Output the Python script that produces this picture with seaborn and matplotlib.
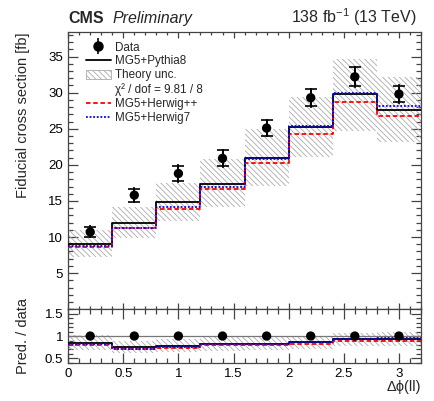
import numpy as np
import pandas as pd
import matplotlib
matplotlib.use("Agg")
import matplotlib.pyplot as plt
import seaborn as sns
from matplotlib.patches import Patch
from matplotlib.lines import Line2D
from matplotlib.legend_handler import HandlerTuple
from matplotlib.ticker import MultipleLocator, FuncFormatter

# ---------------- data ----------------
bin_edges = [0.0, 0.4, 0.8, 1.2, 1.6, 2.0, 2.4, 2.8, 3.2]
data_xs = [10.7, 15.8, 18.8, 20.9, 25.1, 29.3, 32.2, 29.8]
data_err_tot = [0.9, 1.1, 1.35, 1.35, 1.3, 1.4, 1.55, 1.4]
data_err_stat = [0.75, 0.9, 1.1, 1.1, 1.1, 1.15, 1.3, 1.15]
mg5_pythia8 = [9.1, 12.0, 14.8, 17.4, 20.9, 25.3, 29.8, 27.6]
mg5_herwigpp = [8.6, 11.2, 13.9, 16.6, 20.3, 24.3, 28.7, 26.8]
mg5_herwig7 = [8.8, 11.3, 14.2, 17.0, 20.8, 25.4, 29.9, 28.2]
theory_lo = [7.25, 9.8, 12.2, 14.1, 17.1, 21.1, 24.7, 23.1]
theory_hi = [11.0, 14.2, 17.5, 20.8, 24.9, 29.4, 34.7, 32.2]
chi2_text = "χ² / dof = 9.81 / 8"

edges = np.array(bin_edges)
centers = 0.5 * (edges[:-1] + edges[1:])
widths = np.diff(edges)
data = np.array(data_xs)
lo = np.array(theory_lo)
hi = np.array(theory_hi)

# ---------------- style ----------------
sns.set_theme(style="ticks")
plt.rcParams["font.family"] = ["Liberation Sans", "DejaVu Sans"]
plt.rcParams["mathtext.fontset"] = "custom"
plt.rcParams["mathtext.rm"] = "Liberation Sans"
plt.rcParams["mathtext.it"] = "Liberation Sans:italic"
plt.rcParams["hatch.linewidth"] = 0.6
plt.rcParams["axes.linewidth"] = 0.9
plt.rcParams["axes.edgecolor"] = "#444444"

FRAME = "#444444"
HATCH_C = "#aaaaaa"

fig = plt.figure(figsize=(4.34, 4.01), dpi=100)
ax = fig.add_axes([0.157, 0.229, 0.813, 0.691])
rax = fig.add_axes([0.157, 0.095, 0.813, 0.134], sharex=ax)


def steps(axis, values, **kw):
    df = pd.DataFrame({"x": centers, "w": np.asarray(values, dtype=float)})
    sns.histplot(data=df, x="x", weights="w", binwidth=0.4,
                 binrange=(bin_edges[0], bin_edges[-1]), element="step",
                 fill=False, ax=axis, **kw)


# ---------------- main panel ----------------
ax.bar(centers, hi - lo, bottom=lo, width=widths, facecolor="none",
       edgecolor=HATCH_C, hatch="\\" * 6, linewidth=0, zorder=1)
steps(ax, mg5_pythia8, color="black", linewidth=1.3, zorder=3)
steps(ax, mg5_herwigpp, color="#ff0000", linewidth=1.3, linestyle=(0, (2.5, 1.5)), zorder=3)
steps(ax, mg5_herwig7, color="#0000ff", linewidth=1.3, linestyle=(0, (1, 1)), zorder=3)

ax.errorbar(centers, data, yerr=data_err_tot, fmt="none", ecolor="black",
            elinewidth=1.2, capsize=0, zorder=5)
ax.errorbar(centers, data, yerr=data_err_stat, fmt="none", ecolor="black",
            elinewidth=1.2, capsize=4, capthick=1.2, zorder=5)
sns.scatterplot(x=centers, y=data, ax=ax, color="black", s=45,
                edgecolor="none", zorder=6, legend=False)

ax.set_xlim(0, 3.2)
ax.set_ylim(0, 38.4)
ax.xaxis.set_major_locator(MultipleLocator(0.5))
ax.xaxis.set_minor_locator(MultipleLocator(0.1))
ax.yaxis.set_major_locator(MultipleLocator(5))
ax.yaxis.set_minor_locator(MultipleLocator(1))
ax.yaxis.set_major_formatter(FuncFormatter(lambda v, p: "" if abs(v) < 1e-9 else f"{v:g}"))
ax.tick_params(which="both", direction="in", top=True, right=True,
               labelbottom=False, colors=FRAME, labelcolor="black", labelsize=9.5)
ax.tick_params(axis="y", which="major", length=7, width=0.9)
ax.tick_params(axis="y", which="minor", length=3.5, width=0.9)
ax.tick_params(axis="x", which="major", length=4.5, width=0.9)
ax.tick_params(axis="x", which="minor", length=2.3, width=0.9)
ax.set_xlabel("")
ax.set_ylabel("Fiducial cross section [fb]", fontsize=10.5, loc="top")
ax.yaxis.set_label_coords(-0.108, 1.0)

# legend
h_dot = Line2D([], [], color="black", marker="o", markersize=6.5, linestyle="none")
h_bar = Line2D([], [], color="black", marker="|", markersize=11, markeredgewidth=1.2,
               linestyle="none")
h_py = Line2D([], [], color="black", linewidth=1.3)
h_unc = Patch(facecolor="none", edgecolor=HATCH_C, hatch="\\" * 6, linewidth=0.6)
h_chi = Patch(facecolor="none", edgecolor="none")
h_hpp = Line2D([], [], color="#ff0000", linewidth=1.3, linestyle=(0, (2.5, 1.5)))
h_h7 = Line2D([], [], color="#0000ff", linewidth=1.3, linestyle=(0, (1, 1)))
ax.legend([(h_bar, h_dot), h_py, h_unc, h_chi, h_hpp, h_h7],
          ["Data", "MG5+Pythia8", "Theory unc.", chi2_text, "MG5+Herwig++", "MG5+Herwig7"],
          handler_map={tuple: HandlerTuple(ndivide=1)},
          loc="upper left", bbox_to_anchor=(0.05, 0.966), frameon=False,
          fontsize=8.4, handlelength=2.15, handleheight=0.75, handletextpad=0.35,
          labelspacing=0.17, borderaxespad=0, borderpad=0)

# ---------------- ratio panel ----------------
rax.bar(centers, (hi - lo) / data, bottom=lo / data, width=widths, facecolor="none",
        edgecolor=HATCH_C, hatch="\\" * 6, linewidth=0, zorder=1)
rax.axhline(1.0, color="#777777", linewidth=0.9, zorder=2)
steps(rax, np.array(mg5_pythia8) / data, color="black", linewidth=1.3, zorder=3)
steps(rax, np.array(mg5_herwigpp) / data, color="#ff0000", linewidth=1.3,
      linestyle=(0, (2.5, 1.5)), zorder=3)
steps(rax, np.array(mg5_herwig7) / data, color="#0000ff", linewidth=1.3,
      linestyle=(0, (1, 1)), zorder=3)
sns.scatterplot(x=centers, y=data / data, ax=rax, color="black", s=45,
                edgecolor="none", zorder=6, legend=False)

rax.set_ylim(0.4, 1.6)
rax.set_xlim(0, 3.2)
rax.yaxis.set_major_locator(MultipleLocator(0.5))
rax.yaxis.set_minor_locator(MultipleLocator(0.1))
rax.yaxis.set_major_formatter(FuncFormatter(lambda v, p: f"{v:g}"))
rax.xaxis.set_major_formatter(FuncFormatter(lambda v, p: f"{v:g}"))
rax.tick_params(which="both", direction="in", top=True, right=True,
                colors=FRAME, labelcolor="black", labelsize=9.5)
rax.tick_params(axis="y", which="major", length=7, width=0.9)
rax.tick_params(axis="y", which="minor", length=3.5, width=0.9)
rax.tick_params(axis="x", which="major", length=7, width=0.9)
rax.tick_params(axis="x", which="minor", length=3.5, width=0.9)
rax.set_ylabel("Pred. / data", fontsize=10.5)
rax.yaxis.set_label_coords(-0.108, 0.5)
rax.set_xlabel("Δϕ(ll)", fontsize=10.5, loc="right", labelpad=0)

# ---------------- header ----------------
fig.text(68 / 434, 1 - 23 / 401, "CMS", fontsize=11.5, fontweight="bold", va="baseline", ha="left")
fig.text(113 / 434, 1 - 23 / 401, "Preliminary", fontsize=11.5, fontstyle="italic",
         va="baseline", ha="left")
fig.text(417 / 434, 1 - 23 / 401, r"138 fb$^{-1}$ (13 TeV)", fontsize=11.5,
         va="baseline", ha="right")

fig.savefig("out.png", dpi=100)
